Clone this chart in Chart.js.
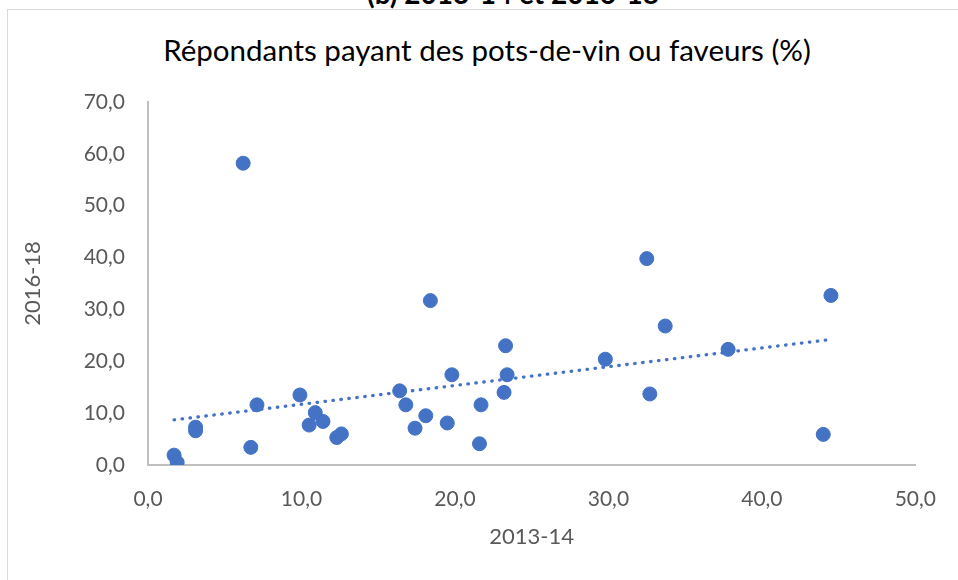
<!DOCTYPE html>
<html>
<head>
<meta charset="utf-8">
<script src="https://cdn.jsdelivr.net/npm/chart.js@4"></script>
<style>
    body { margin: 0; background: #fff; }
    #wrap { position: relative; width: 958px; height: 580px; overflow: hidden; background: #fff; }
    #frame { position: absolute; left: 7px; top: 9px; width: 1000px; height: 620px; border: 1.5px solid #d9d9d9; box-sizing: border-box; }
    #heading { position: absolute; left: 0; width: 1026px; top: -24px; text-align: center; font: bold 28px Lato, sans-serif; color: #000; }
    #title { position: absolute; left: 0; width: 974px; top: 32px; text-align: center; font: 29.5px Lato, sans-serif; color: #000; white-space: nowrap; }
    canvas { position: absolute; left: 0; top: 0; }
</style>
</head>
<body>
<div id="wrap">
    <div id="heading">(b) 2013-14 et 2016-18</div>
    <div id="frame"></div>
    <div id="title"></div>
    <canvas id="scatterChart" width="958" height="580"></canvas>
</div>
<script>
// Data
const x2013 = [6.2, 18.4, 23.3, 19.8, 23.4, 23.2, 16.4, 9.9, 7.1, 16.8, 21.7, 10.9, 18.1, 10.5, 11.4, 19.5,
               17.4, 3.1, 3.1, 12.3, 12.6, 6.7, 21.6, 1.7, 1.9, 32.5, 44.5, 33.7, 29.8, 37.8, 32.7, 44.0];
const y2016 = [58.2, 31.7, 23.0, 17.4, 17.4, 14.0, 14.3, 13.5, 11.6, 11.6, 11.6, 10.1, 9.5, 7.7, 8.4, 8.1,
               7.1, 7.3, 6.6, 5.3, 6.0, 3.4, 4.1, 1.9, 0.5, 39.8, 32.7, 26.8, 20.4, 22.3, 13.7, 5.9];

// Linear trendline endpoints (as drawn in the reference)
const trendX = [1.7, 44.5];
const trendY = [8.7, 24.2];

const chartTitle = 'Répondants payant des pots-de-vin ou faveurs (%)';
const xTitle = '2013-14';
const yTitle = '2016-18';

const blue = '#4472c4';
const axisGrey = '#bfbfbf';
const textGrey = '#595959';

const fmt = v => v.toFixed(1).replace('.', ',');

document.getElementById('title').innerText = chartTitle;
Chart.defaults.font.family = 'Lato, sans-serif';

new Chart(document.getElementById('scatterChart'), {
    type: 'scatter',
    data: {
        datasets: [
            {
                data: x2013.map((x, i) => ({ x, y: y2016[i] })),
                backgroundColor: blue,
                borderColor: blue,
                pointRadius: 7,
                pointHoverRadius: 7,
                order: 1
            },
            {
                type: 'line',
                data: trendX.map((x, i) => ({ x, y: trendY[i] })),
                borderColor: blue,
                borderWidth: 3.3,
                borderDash: [0.5, 7.5],
                borderCapStyle: 'round',
                pointRadius: 0,
                fill: false,
                order: 2
            }
        ]
    },
    options: {
        responsive: false,
        animation: false,
        layout: { padding: { left: 0, right: 38, top: 102, bottom: 0 } },
        plugins: {
            legend: { display: false },
            tooltip: { enabled: false },
            title: { display: false }
        },
        scales: {
            x: {
                type: 'linear',
                min: 0,
                max: 50,
                afterFit: s => { s.height = 115; },
                grid: { display: false, drawTicks: false },
                border: { color: axisGrey, width: 2 },
                ticks: { stepSize: 10, color: textGrey, font: { size: 21 }, padding: 22, callback: fmt },
                title: { display: true, text: xTitle, color: textGrey, font: { size: 22 }, padding: { bottom: 30 } }
            },
            y: {
                type: 'linear',
                min: 0,
                max: 70,
                afterFit: s => { s.width = 148; },
                grid: { display: false, drawTicks: false },
                border: { color: axisGrey, width: 2 },
                ticks: { stepSize: 10, color: textGrey, font: { size: 21 }, padding: 23, callback: fmt },
                title: { display: true, text: yTitle, color: textGrey, font: { size: 22 }, padding: { top: 20 } }
            }
        }
    }
});
</script>
</body>
</html>
